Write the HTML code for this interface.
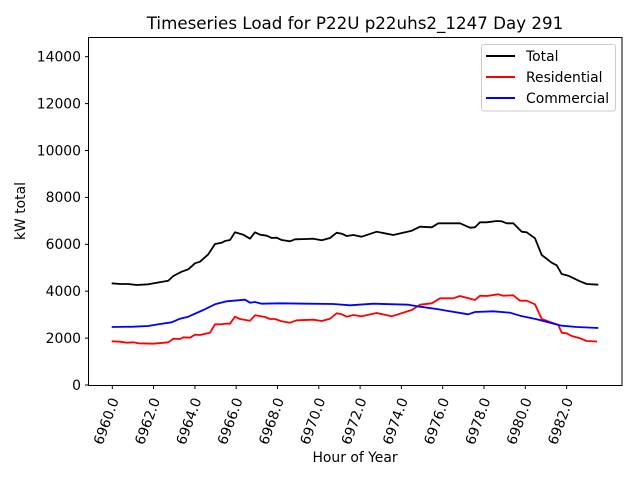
<!DOCTYPE html>
<html><head><meta charset="utf-8"><style>body{margin:0;background:#fff}svg{display:block}text{font-family:"DejaVu Sans","Liberation Sans",sans-serif;fill:#000}</style></head><body>
<svg width="640" height="480" viewBox="0 0 640 480" xmlns="http://www.w3.org/2000/svg">
<rect width="640" height="480" fill="#fff"/>
<text x="355" y="29" font-size="16.7" text-anchor="middle">Timeseries Load for P22U p22uhs2_1247  Day 291</text>
<g fill="none" stroke-width="1.8" stroke-linejoin="round">
<polyline stroke="#000" points="111.7,283.3 120,284 128.3,284 136.7,285 148.3,284.3 156.7,282.7 168.3,280.7 173.3,276 181.7,271.7 188.3,269.3 195,263.3 200,261.7 208.3,254.3 215,244 221.7,242.7 225,241 230,240 235,232.3 243.3,234.7 250,238.7 255,232.3 260,234.7 266.7,235.7 271.7,238 276.7,237.7 281.7,240 290,241.3 295,239.3 306.7,239 313.3,238.7 321.7,240.3 330,238 336.7,232.7 341.7,233.7 346.7,236 353.3,235 361.7,236.7 376.7,231.7 393.3,235 411.7,230.7 420,226.7 431.7,227.3 438.3,223.3 450,223.3 460,223.3 470,227.7 475,227.3 480,222.3 486.7,222.3 496.7,221 501.7,221.3 506.7,223.3 513.3,223.3 521.7,231.7 526.7,232.3 535,238.3 541.7,255 551.7,262.7 556.7,265.3 561.7,274 568.3,275.7 580,281.3 586.7,284 598.3,284.7"/>
<polyline stroke="#f00" points="111.7,341.3 120,341.7 126.7,342.7 133.3,342.3 138.3,343.3 153.3,343.7 168.3,342.3 173.3,338.7 180,339 183.3,337.3 190,337.7 195,334.7 200,335 210,332.7 215,324.3 221.7,324.3 225,323.7 230,323.7 235,316.7 240,319 250,320.7 255,315.3 265,317 270,319 275,319 281.7,321.3 290,322.7 296.7,320.3 313.3,319.7 321.7,321 330,318.7 336.7,313.3 341.7,314.3 346.7,316.7 353.3,315 361.7,316.3 376.7,313 391.7,316.3 411.7,310 420,304.7 431.7,303.3 440,298.3 453.3,298.3 460,296 475,300 480,295.7 486.7,296 498.3,294.3 503.3,295.7 513.3,295.3 520,300.7 526.7,300.7 535,304.3 541.7,319 558.3,325 561.7,332.7 566.7,333.3 571.7,336 580,338.3 586.7,341 597,341.5"/>
<polyline stroke="#00f" points="111.7,327 133.3,326.7 148.3,326 160,324 171.7,322.3 180,318.7 188.3,316.7 203.3,310 215,304.3 226.7,301.3 245,299.7 250,302.7 255,302 261.7,303.7 280,303.3 306.7,303.7 333.3,304 350,305.3 373.3,303.7 408.3,304.7 420,306.7 436.7,309 446.7,310.7 468.3,314.3 475,312 493.3,311.3 510,312.7 520,315.7 536.7,319.3 550,322.7 561.7,325.7 576.7,327 598.3,328"/>
</g>
<rect x="88.5" y="37.5" width="533.5" height="348" fill="none" stroke="#000" stroke-width="1"/>
<g stroke="#000" stroke-width="1">
<line x1="85" y1="385" x2="88.5" y2="385"/><line x1="85" y1="338.1" x2="88.5" y2="338.1"/><line x1="85" y1="291.2" x2="88.5" y2="291.2"/><line x1="85" y1="244.3" x2="88.5" y2="244.3"/><line x1="85" y1="197.4" x2="88.5" y2="197.4"/><line x1="85" y1="150.5" x2="88.5" y2="150.5"/><line x1="85" y1="103.6" x2="88.5" y2="103.6"/><line x1="85" y1="56.7" x2="88.5" y2="56.7"/>
<line x1="112.3" y1="385.5" x2="112.3" y2="389"/><line x1="153.6" y1="385.5" x2="153.6" y2="389"/><line x1="194.9" y1="385.5" x2="194.9" y2="389"/><line x1="236.2" y1="385.5" x2="236.2" y2="389"/><line x1="277.5" y1="385.5" x2="277.5" y2="389"/><line x1="318.8" y1="385.5" x2="318.8" y2="389"/><line x1="360.1" y1="385.5" x2="360.1" y2="389"/><line x1="401.4" y1="385.5" x2="401.4" y2="389"/><line x1="442.7" y1="385.5" x2="442.7" y2="389"/><line x1="484" y1="385.5" x2="484" y2="389"/><line x1="525.3" y1="385.5" x2="525.3" y2="389"/><line x1="566.6" y1="385.5" x2="566.6" y2="389"/>
</g>
<g font-size="13.9" text-anchor="end">
<text x="81" y="390">0</text><text x="81" y="343">2000</text><text x="81" y="296">4000</text><text x="81" y="249">6000</text><text x="81" y="202">8000</text><text x="81" y="155.5">10000</text><text x="81" y="108.5">12000</text><text x="81" y="61.7">14000</text>
</g>
<g font-size="13.9" text-anchor="end">
<text transform="translate(119,400) rotate(-70)">6960.0</text>
<text transform="translate(160.3,400) rotate(-70)">6962.0</text>
<text transform="translate(201.6,400) rotate(-70)">6964.0</text>
<text transform="translate(242.9,400) rotate(-70)">6966.0</text>
<text transform="translate(284.2,400) rotate(-70)">6968.0</text>
<text transform="translate(325.5,400) rotate(-70)">6970.0</text>
<text transform="translate(366.8,400) rotate(-70)">6972.0</text>
<text transform="translate(408.1,400) rotate(-70)">6974.0</text>
<text transform="translate(449.4,400) rotate(-70)">6976.0</text>
<text transform="translate(490.7,400) rotate(-70)">6978.0</text>
<text transform="translate(532,400) rotate(-70)">6980.0</text>
<text transform="translate(573.3,400) rotate(-70)">6982.0</text>
</g>
<text x="355" y="462" font-size="13.9" text-anchor="middle">Hour of Year</text>
<text transform="translate(25,211) rotate(-90)" font-size="13.9" text-anchor="middle">kW total</text>
<rect x="481.5" y="44.5" width="134" height="66.5" rx="2.5" fill="#fff" fill-opacity="0.8" stroke="#ccc" stroke-width="1"/>
<g stroke-width="2"><line x1="486" y1="56" x2="515" y2="56" stroke="#000"/><line x1="486" y1="77" x2="515" y2="77" stroke="#f00"/><line x1="486" y1="98" x2="515" y2="98" stroke="#00f"/></g>
<g font-size="13.9"><text x="526" y="61">Total</text><text x="526" y="82">Residential</text><text x="526" y="103">Commercial</text></g>
</svg>
</body></html>
